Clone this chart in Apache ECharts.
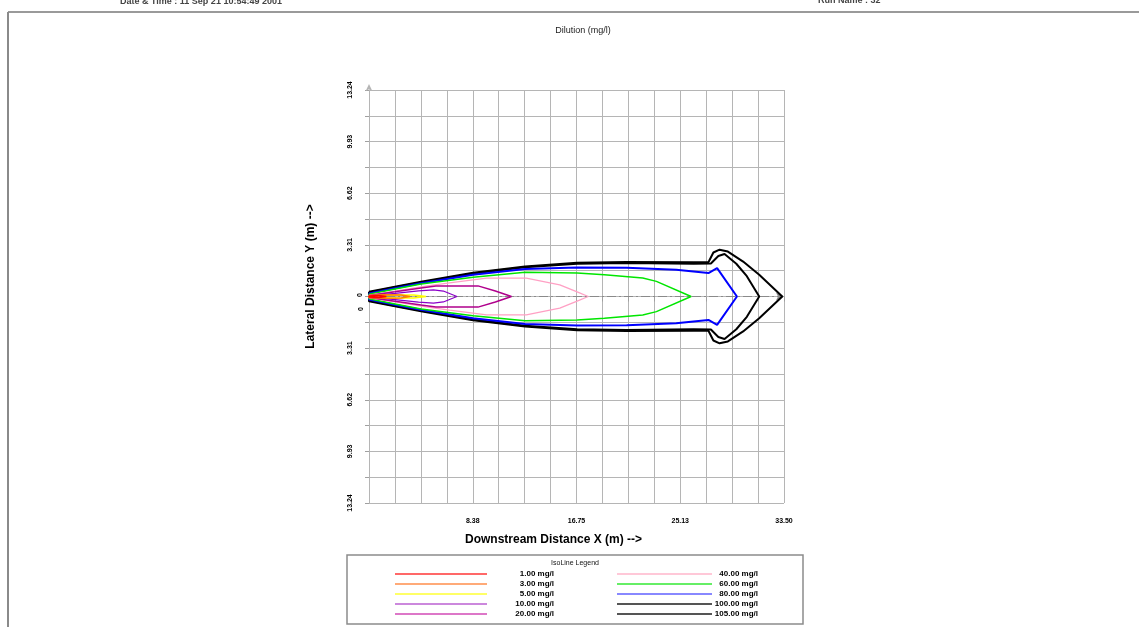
<!DOCTYPE html>
<html>
<head>
<meta charset="utf-8">
<script src="https://cdn.jsdelivr.net/npm/echarts@6/dist/echarts.min.js"></script>
<style>
html,body{margin:0;padding:0;background:#fff;}
#c{width:1139px;height:627px;}
</style>
</head>
<body>
<div id="c"></div>
<script>
// ---------- data ----------
const titleText = 'Dilution (mg/l)';
const xAxisName = 'Downstream Distance X (m) -->';
const yAxisName = 'Lateral Distance Y (m) -->';
const xMin = 0, xMax = 33.50, xStep = 2.09375;
const yMin = -13.24, yMax = 13.24, yStep = 1.655;
const xLabelEvery = 4;   // a label on every 4th grid line
const yLabelEvery = 2;   // a label on every 2nd grid line

const levelNames = ['1.00 mg/l','3.00 mg/l','5.00 mg/l','10.00 mg/l','20.00 mg/l',
                    '40.00 mg/l','60.00 mg/l','80.00 mg/l','100.00 mg/l','105.00 mg/l'];
const lineColors = ['#ff0000','#ff8000','#ffff00','#8a00c8','#b0008c',
                    '#ffa0c4','#00e600','#0000ff','#000000','#000000'];
const legendColors = ['#ff6868','#ffaa78','#ffff66','#cc88dd','#dd77c8',
                      '#ffc8d8','#66ee66','#8888ff','#555555','#555555'];

// upper half of each iso-line (x downstream, y lateral); contours are symmetric about y = 0
const iso1X   = [0, 0.8, 1.4];
const iso1Y   = [0.04, 0.06, 0];
const iso3X   = [0, 1.5, 2.6, 3.3];
const iso3Y   = [0.06, 0.12, 0.10, 0];
const iso5X   = [0, 2.0, 3.6, 4.6];
const iso5Y   = [0.05, 0.09, 0.10, 0];
const iso10X  = [0, 2.1, 4.0, 5.2, 6.0, 7.1];
const iso10Y  = [0.04, 0.20, 0.36, 0.42, 0.35, 0];
const iso20X  = [0, 2.1, 4.2, 5.4, 8.8, 10.2, 11.5];
const iso20Y  = [0.06, 0.30, 0.55, 0.68, 0.68, 0.35, 0];
const iso40X  = [0, 2.1, 4.6, 6.5, 9.5, 12.7, 15.4, 16.8, 17.7];
const iso40Y  = [0.08, 0.35, 0.66, 0.88, 1.18, 1.18, 0.75, 0.30, 0];
const iso60X  = [0, 2.1, 4.2, 8.4, 12.6, 16.8, 19.0, 22.1, 23.2, 26.0];
const iso60Y  = [0.15, 0.48, 0.80, 1.24, 1.56, 1.50, 1.40, 1.18, 0.97, 0];
const iso80X  = [0, 2.1, 4.2, 8.4, 12.6, 16.8, 20.8, 24.8, 27.4, 28.1, 29.7];
const iso80Y  = [0.20, 0.53, 0.85, 1.39, 1.77, 1.86, 1.84, 1.71, 1.50, 1.82, 0];
const iso100X = [0, 2.1, 4.2, 8.4, 12.6, 16.8, 20.8, 26.2, 27.6, 28.2, 28.7, 29.65, 30.5, 31.5];
const iso100Y = [0.26, 0.60, 0.90, 1.47, 1.88, 2.10, 2.14, 2.10, 2.12, 2.60, 2.72, 2.10, 1.30, 0];
const iso105X = [0, 2.1, 4.2, 8.4, 12.6, 16.8, 20.8, 26.2, 27.4, 27.8, 28.3, 28.97, 30.2, 31.5, 33.36];
const iso105Y = [0.30, 0.62, 0.94, 1.52, 1.93, 2.17, 2.22, 2.20, 2.20, 2.82, 3.00, 2.88, 2.24, 1.39, 0];

const isoX = [iso1X, iso3X, iso5X, iso10X, iso20X, iso40X, iso60X, iso80X, iso100X, iso105X];
const isoY = [iso1Y, iso3Y, iso5Y, iso10Y, iso20Y, iso40Y, iso60Y, iso80Y, iso100Y, iso105Y];
const lineWidths = [1.5, 1.5, 1.5, 1.2, 1.5, 1.3, 1.5, 2, 2, 2];

// ---------- build ----------
function closedContour(xs, ys) {
  const upper = xs.map((x, i) => [x, ys[i]]);
  const lower = xs.map((x, i) => [x, -ys[i]]).reverse();
  return upper.concat(lower.slice(1), [upper[0]]);
}

const FONT = 'Liberation Sans';
const series = [];
for (let i = levelNames.length - 1; i >= 0; i--) {
  series.push({
    name: levelNames[i],
    type: 'line',
    data: closedContour(isoX[i], isoY[i]),
    showSymbol: false,
    symbol: 'none',
    smooth: false,
    silent: true,
    animation: false,
    lineStyle: { color: lineColors[i], width: lineWidths[i] },
    z: 10 + (levelNames.length - i)
  });
}
// centre line
series[0].markLine = {
  silent: true,
  symbol: ['none', 'arrow'],
  symbolSize: [6, 8],
  label: { show: false },
  lineStyle: { color: '#8a8a8a', width: 1, type: [9, 3, 2, 3] },
  data: [{ yAxis: 0 }],
  animation: false
};

// legend graphics
const legendG = [];
legendG.push({ type: 'rect', shape: { x: 347, y: 555, width: 456, height: 69 },
  style: { fill: '#fff', stroke: '#8c8c8c', lineWidth: 1.5 } });
legendG.push({ type: 'text', x: 575, y: 563,
  style: { text: 'IsoLine Legend', fill: '#111', font: '7px ' + FONT, textAlign: 'center', textVerticalAlign: 'middle' } });
levelNames.forEach((n, i) => {
  const col = i < 5 ? 0 : 1;
  const row = i % 5;
  const yy = 574 + row * 10;
  const x1 = col === 0 ? 395 : 617;
  const x2 = col === 0 ? 487 : 712;
  const tx = col === 0 ? 554 : 758;
  legendG.push({ type: 'line', shape: { x1: x1, y1: yy, x2: x2, y2: yy },
    style: { stroke: legendColors[i], lineWidth: 2 } });
  legendG.push({ type: 'text', x: tx, y: yy,
    style: { text: n, fill: '#000', font: 'bold 8px ' + FONT, textAlign: 'right', textVerticalAlign: 'middle' } });
});

function xLabel(v) {
  const k = Math.round(v / xStep);
  return (k > 0 && k % xLabelEvery === 0) ? v.toFixed(2) : '';
}
function yLabel(v) {
  const k = Math.round(v / yStep);
  return (k !== 0 && k % yLabelEvery === 0) ? Math.abs(v).toFixed(2) : '';
}

const chart = echarts.init(document.getElementById('c'), null, { renderer: 'canvas' });
const option = {
  animation: false,
  backgroundColor: '#ffffff',
  grid: { left: 369, right: 355, top: 90, bottom: 124, containLabel: false },
  xAxis: {
    type: 'value', min: xMin, max: xMax, interval: xStep,
    name: xAxisName, nameLocation: 'middle', nameGap: 31,
    nameTextStyle: { fontFamily: FONT, fontSize: 12, fontWeight: 'bold', color: '#000', padding: [0, 46, 0, 0] },
    axisLine: { show: true, lineStyle: { color: '#b5b5b5', width: 1 } },
    axisTick: { show: true, length: 5, lineStyle: { color: '#a0a0a0' } },
    axisLabel: {
      margin: 15, fontFamily: FONT, fontSize: 7, fontWeight: 'bold', color: '#000',
      showMinLabel: true, showMaxLabel: true, hideOverlap: false,
      formatter: xLabel
    },
    splitLine: { show: true, lineStyle: { color: '#b5b5b5', width: 1 } }
  },
  yAxis: {
    type: 'value', min: yMin, max: yMax, interval: yStep,
    name: yAxisName, nameLocation: 'middle', nameGap: 52, nameRotate: 90,
    nameTextStyle: { fontFamily: FONT, fontSize: 12, fontWeight: 'bold', color: '#000', padding: [0, 0, 0, 40] },
    axisLine: { show: true, symbol: ['none', 'arrow'], symbolSize: [5, 7], symbolOffset: [0, 6],
      lineStyle: { color: '#b5b5b5', width: 1 } },
    axisTick: { show: true, length: 4, lineStyle: { color: '#a0a0a0' } },
    axisLabel: {
      rotate: 90, margin: 15, fontFamily: FONT, fontSize: 7, fontWeight: 'bold', color: '#000',
      showMinLabel: true, showMaxLabel: true, hideOverlap: false,
      formatter: yLabel
    },
    splitLine: { show: true, lineStyle: { color: '#b5b5b5', width: 1 } }
  },
  series: series,
  graphic: [
    { type: 'line', shape: { x1: 8, y1: 12, x2: 1139, y2: 12 }, style: { stroke: '#9a9a9a', lineWidth: 2 } },
    { type: 'line', shape: { x1: 8, y1: 12, x2: 8, y2: 627 }, style: { stroke: '#8a8a8a', lineWidth: 2 } },
    { type: 'text', x: 120, y: 2,
      style: { text: 'Date & Time : 11 Sep 21 10:54:49 2001', fill: '#444', font: 'bold 9px ' + FONT, textVerticalAlign: 'middle' } },
    { type: 'text', x: 818, y: 1,
      style: { text: 'Run Name : 32', fill: '#444', font: 'bold 9px ' + FONT, textVerticalAlign: 'middle' } },
    { type: 'text', x: 583, y: 31,
      style: { text: titleText, fill: '#222', font: '9px ' + FONT, textAlign: 'center', textVerticalAlign: 'middle' } },
    { type: 'text', x: 360, y: 295, rotation: Math.PI / 2,
      style: { text: '0', fill: '#000', font: 'bold 7px ' + FONT, textAlign: 'center', textVerticalAlign: 'middle' } },
    { type: 'text', x: 361, y: 309, rotation: Math.PI / 2,
      style: { text: '0', fill: '#000', font: 'bold 7px ' + FONT, textAlign: 'center', textVerticalAlign: 'middle' } }
  ].concat(legendG)
};
chart.setOption(option);
</script>
</body>
</html>
